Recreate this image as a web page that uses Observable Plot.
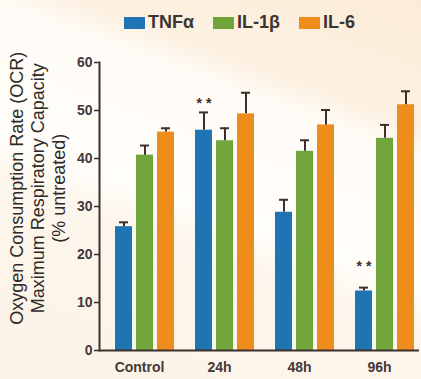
<!DOCTYPE html>
<html>
<head>
<meta charset="utf-8">
<script src="https://cdn.jsdelivr.net/npm/d3@7"></script>
<script src="https://cdn.jsdelivr.net/npm/@observablehq/plot@0.6"></script>
<style>
  html, body { margin: 0; padding: 0; }
  body {
    width: 421px; height: 379px; position: relative; overflow: hidden;
    background: linear-gradient(200deg, #fbecd6 0%, #fcf1e2 24%, #fffcf7 30%, #fffdf9 55%, #fdf6ec 62%, #fcf3e6 100%);
    font-family: "Liberation Sans", Arial, sans-serif;
  }
  #chart { position: absolute; left: 0; top: 0; }
  #legend {
    position: absolute; left: 124px; top: 12px; display: flex; align-items: center;
    font: bold 18px "Liberation Sans", Arial, sans-serif; color: #3d3533;
  }
  #legend .item { display: flex; align-items: center; margin-right: 19px; }
  #legend .sw { width: 21px; height: 12px; margin-right: 3px; display: inline-block; }
  #ylabel {
    position: absolute; width: 320px; height: 70.5px; left: -118.5px; top: 152.75px;
    transform: rotate(-90deg); text-align: center; line-height: 23.5px;
    font: 18px "Liberation Sans", Arial, sans-serif; color: #2d2a28; white-space: nowrap;
  }
</style>
</head>
<body>
<div id="legend"></div>
<div id="ylabel"></div>
<div id="chart"></div>
<script>
const groups = ["Control", "24h", "48h", "96h"];
const series = ["TNFα", "IL-1β", "IL-6"];
const colors = ["#1f74b3", "#6fa53a", "#ee8c1c"];
const tnfValues = [25.8, 45.9, 28.8, 12.4];
const il1bValues = [40.7, 43.7, 41.5, 44.2];
const il6Values = [45.5, 49.3, 47.0, 51.2];
const tnfErr = [0.9, 3.7, 2.6, 0.7];
const il1bErr = [2.0, 2.6, 2.3, 2.8];
const il6Err = [0.8, 4.4, 3.1, 2.8];
const yTicks = [0, 10, 20, 30, 40, 50, 60];
const sigGroups = ["24h", "96h"];
const sigY = [51.5, 17.4];
const yLabelLines = ["Oxygen Consumption Rate (OCR)", "Maximum Respiratory Capacity", "(% untreated)"];

const valueSets = [tnfValues, il1bValues, il6Values];
const errSets = [tnfErr, il1bErr, il6Err];
const rows = [];
groups.forEach((g, gi) => series.forEach((s, si) => {
  rows.push({group: g, series: s, value: valueSets[si][gi], err: errSets[si][gi]});
}));
const sig = sigGroups.map((g, i) => ({group: g, series: series[0], y: sigY[i]}));

const ink = "#3b302c";

const chart = Plot.plot({
  width: 421,
  height: 379,
  marginTop: 62,
  marginBottom: 29,
  marginLeft: 97,
  marginRight: 1,
  style: {background: "transparent", fontFamily: "'Liberation Sans', Arial, sans-serif", fontSize: "14px", fontWeight: "bold", color: "#44383a", overflow: "visible"},
  fx: {domain: groups, padding: 0, label: null},
  x: {domain: series, paddingInner: 0.21, paddingOuter: 0.48, align: 0.77, axis: null},
  y: {domain: [0, 60], label: null},
  color: {domain: series, range: colors},
  marks: [
    Plot.barY(rows, {fx: "group", x: "series", y: "value", fill: "series"}),
    Plot.ruleX(rows, {fx: "group", x: "series", y1: "value", y2: d => d.value + d.err, stroke: ink, strokeWidth: 2}),
    Plot.tickY(rows, {fx: "group", x: "series", y: d => d.value + d.err, stroke: ink, strokeWidth: 2, insetLeft: 4, insetRight: 4}),
    Plot.ruleY([0], {stroke: ink, strokeWidth: 2}),
    Plot.frame({anchor: "left", facet: "super", stroke: ink, strokeWidth: 2}),
    Plot.text(sig, {fx: "group", x: "series", y: "y", text: () => "* *", fontSize: 14, fontWeight: "bold", fill: ink}),
    Plot.axisY({ticks: yTicks, tickSize: 5, tickPadding: 2, stroke: ink, strokeWidth: 1.5, label: null}),
    Plot.axisFx({anchor: "bottom", tickSize: 0, tickPadding: 12, label: null})
  ]
});
document.getElementById("chart").appendChild(chart);

const legend = d3.select("#legend");
series.forEach((s, i) => {
  const item = legend.append("div").attr("class", "item");
  item.append("span").attr("class", "sw").style("background", colors[i]);
  item.append("span").text(s);
});
d3.select("#ylabel").selectAll("div").data(yLabelLines).join("div").text(d => d);
</script>
</body>
</html>
